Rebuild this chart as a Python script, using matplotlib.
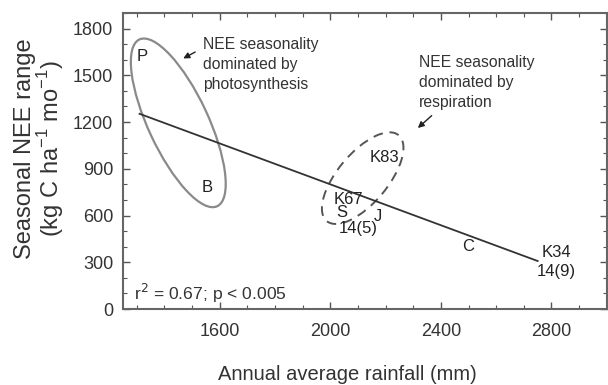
import matplotlib
matplotlib.use("Agg")
import matplotlib.pyplot as plt
from matplotlib.patches import Ellipse
from matplotlib.transforms import ScaledTranslation
from matplotlib.ticker import MultipleLocator

plt.rcParams['font.family'] = ['Liberation Sans', 'DejaVu Sans']

# Site labels and their positions (rainfall mm, NEE range kg C/ha/mo)
site_labels = ["P", "B", "K83", "K67", "S", "J", "14(5)", "C", "K34", "14(9)"]
site_rain = [1318, 1553, 2194, 2064, 2043, 2172, 2100, 2500, 2818, 2818]
site_nee = [1620, 778, 970, 700, 617, 595, 518, 398, 360, 238]

# Regression line end points
fit_rain = [1310, 2750]
fit_nee = [1253, 308]

x_ticks = [1600, 2000, 2400, 2800]
y_ticks = [0, 300, 600, 900, 1200, 1500, 1800]

fig = plt.figure(figsize=(6.08, 3.85), dpi=100)
ax = fig.add_axes([0.2023, 0.1974, 0.7957, 0.7688])
ax.set_xlim(1250, 3000)
ax.set_ylim(0, 1900)

ax.plot(fit_rain, fit_nee, color='#333333', lw=1.3, zorder=3)

for lab, x, y in zip(site_labels, site_rain, site_nee):
    ax.text(x, y, lab, ha='center', va='center', fontsize=12, color='#222222', zorder=4)

# Ellipses (center in data coords, size in inches)
e1 = Ellipse((0, 0), 1.84, 0.60, angle=-65,
             transform=fig.dpi_scale_trans + ScaledTranslation(1450, 1195, ax.transData),
             fill=False, edgecolor='#8a8a8a', lw=1.6)
ax.add_patch(e1)
e2 = Ellipse((0, 0), 1.12, 0.50, angle=50,
             transform=fig.dpi_scale_trans + ScaledTranslation(2117, 840, ax.transData),
             fill=False, edgecolor='#555555', lw=1.4, linestyle=(0, (5, 3.5)))
ax.add_patch(e2)

ax.text(1538, 1568, "NEE seasonality\ndominated by\nphotosynthesis", ha='left', va='center',
        fontsize=11.3, color='#333333', linespacing=1.42)
ax.text(2320, 1456, "NEE seasonality\ndominated by\nrespiration", ha='left', va='center',
        fontsize=11.3, color='#333333', linespacing=1.42)

ax.annotate("", xy=(1459, 1600), xytext=(1520, 1658),
            arrowprops=dict(arrowstyle='-|>', color='#222222', lw=1.0, mutation_scale=9))
ax.annotate("", xy=(2309, 1150), xytext=(2374, 1253),
            arrowprops=dict(arrowstyle='-|>', color='#222222', lw=1.0, mutation_scale=9))

ax.text(1290, 100, r"r$^2$ = 0.67; p < 0.005", ha='left', va='center', fontsize=12.6, color='#333333')

ax.set_xticks(x_ticks)
ax.set_yticks(y_ticks)
ax.xaxis.set_minor_locator(MultipleLocator(100))
ax.yaxis.set_minor_locator(MultipleLocator(100))
ax.tick_params(which='both', direction='in', top=True, right=True, color='#555555')
ax.tick_params(which='major', length=5, width=1, labelsize=13, labelcolor='#333333')
ax.tick_params(axis='x', which='major', pad=10)
ax.tick_params(axis='y', which='major', pad=7)
ax.tick_params(which='minor', length=3, width=0.8)
for s in ax.spines.values():
    s.set_color('#666666')
    s.set_linewidth(1.5)

fig.text(347 / 608, 1 - 375 / 385, "Annual average rainfall (mm)", ha='center', va='center',
         fontsize=14.5, color='#333333')
fig.text(40 / 608, 1 - 149 / 385, "Seasonal NEE range\n(kg C ha$^{\\mathregular{-1}}$ mo$^{\\mathregular{-1}}$)",
         ha='center', va='center', rotation=90, fontsize=17, color='#333333', linespacing=1.0)

fig.savefig("out.png", dpi=100)
